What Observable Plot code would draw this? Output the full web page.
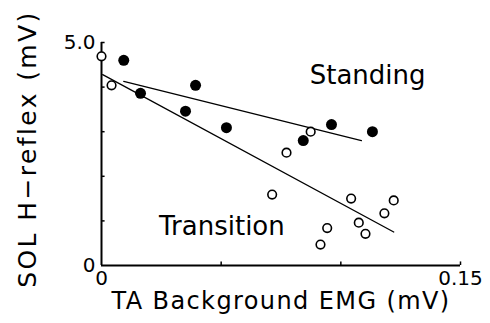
<!DOCTYPE html>
<html>
<head>
<meta charset="utf-8">
<script src="https://cdn.jsdelivr.net/npm/d3@7"></script>
<script src="https://cdn.jsdelivr.net/npm/@observablehq/plot@0.6"></script>
<style>
  html, body { margin: 0; padding: 0; background: #fff; }
  svg { display: block; }
</style>
</head>
<body>
<div id="chart"></div>
<script>
// Standing (filled circles)
const standingX = [0.0093, 0.0163, 0.0393, 0.0351, 0.0522, 0.0961, 0.0843, 0.1132];
const standingY = [4.60, 3.86, 4.04, 3.46, 3.09, 3.16, 2.80, 3.00];
// Transition (open circles)
const transitionX = [0.0, 0.0042, 0.0874, 0.0773, 0.0713, 0.1043, 0.1221, 0.1182, 0.1075, 0.1103, 0.0943, 0.0915];
const transitionY = [4.69, 4.04, 3.00, 2.53, 1.59, 1.50, 1.46, 1.17, 0.96, 0.71, 0.84, 0.47];
// Regression lines (endpoints as drawn)
const standingLineX = [0.0093, 0.1086];
const standingLineY = [4.13, 2.80];
const transitionLineX = [0.0005, 0.1221];
const transitionLineY = [4.28, 0.75];
// Ticks
const xTickLabels = [0, 0.15];
const yTickLabels = [0, 5];
const xMinorTicks = [0.05, 0.10, 0.15];
const yMinorTicks = [1, 2, 3, 4, 5];

const standing = standingX.map((x, i) => ({x, y: standingY[i]}));
const transition = transitionX.map((x, i) => ({x, y: transitionY[i]}));
const sLine = standingLineX.map((x, i) => ({x, y: standingLineY[i]}));
const tLine = transitionLineX.map((x, i) => ({x, y: transitionLineY[i]}));

const font = "DejaVu Sans";

const chart = Plot.plot({
  width: 490,
  height: 323,
  marginLeft: 101,
  marginRight: 30,
  marginTop: 42,
  marginBottom: 58,
  style: {fontFamily: font, background: "#fff", color: "#000"},
  x: {domain: [0, 0.15]},
  y: {domain: [0, 5]},
  marks: [
    Plot.axisX(xTickLabels, {tickSize: 0, tickPadding: 5, fontSize: 20, label: null,
      tickFormat: d => d === 0 ? "0" : "0.15"}),
    Plot.axisY(yTickLabels, {tickSize: 0, tickPadding: 6, fontSize: 20, label: null,
      tickFormat: d => d === 0 ? "0" : "5.0"}),
    Plot.ruleX(xMinorTicks, {x: d => d, y1: 0, y2: 0.08, stroke: "#000", strokeWidth: 1.5}),
    Plot.ruleY(yMinorTicks, {y: d => d, x1: 0, x2: 0.0015, stroke: "#000", strokeWidth: 1.5}),
    Plot.ruleY([0], {stroke: "#000", strokeWidth: 2}),
    Plot.ruleX([0], {stroke: "#000", strokeWidth: 2}),
    Plot.line(sLine, {x: "x", y: "y", stroke: "#000", strokeWidth: 1.3}),
    Plot.line(tLine, {x: "x", y: "y", stroke: "#000", strokeWidth: 1.3}),
    Plot.dot(standing, {x: "x", y: "y", r: 5.5, fill: "#000", stroke: "none"}),
    Plot.dot(transition, {x: "x", y: "y", r: 4.3, fill: "#fff", stroke: "#000", strokeWidth: 1.6}),
    Plot.text(["Standing"], {x: 0.1112, y: 4.25, text: d => d, fontSize: 26, fill: "#000"}),
    Plot.text(["Transition"], {x: 0.0503, y: 0.87, text: d => d, fontSize: 26, fill: "#000"}),
    Plot.text(["TA Background EMG (mV)"], {frameAnchor: "bottom", dy: 43, text: d => d, fontSize: 24, fill: "#000",
      textAnchor: "middle", className: "xlab"}),
    Plot.text(["SOL H\u2212reflex (mV)"], {frameAnchor: "left", dx: -74, dy: -5, rotate: -90, text: d => d,
      fontSize: 25, fill: "#000", textAnchor: "middle", className: "ylab"})
  ]
});
d3.select(chart).selectAll(".xlab text").style("letter-spacing", "1.4px");
d3.select(chart).selectAll(".ylab text").style("letter-spacing", "2.4px");
document.getElementById("chart").appendChild(chart);
</script>
</body>
</html>
